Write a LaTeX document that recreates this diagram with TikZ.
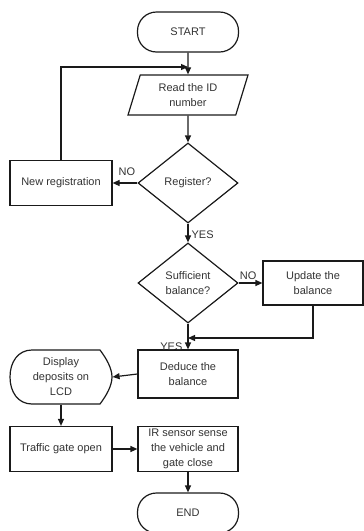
\documentclass[tikz,border=0pt]{standalone}
\usepackage{fontspec}
\setmainfont{Liberation Sans}
\usetikzlibrary{positioning,arrows.meta,shapes.geometric}
\definecolor{cLine}{HTML}{1A1A1A}
\definecolor{cText}{HTML}{333333}
\tikzset{
  blk/.style={draw=cLine, line width=1.2pt, align=center, inner sep=1pt,
              text=cText, font=\fontsize{11}{15}\selectfont},
  proc/.style={blk, rectangle, minimum width=100pt, minimum height=45pt},
  term/.style={blk, rectangle, rounded corners=19pt, minimum width=101pt, minimum height=40pt},
  io/.style={blk, trapezium, trapezium left angle=64, trapezium right angle=116,
             trapezium stretches body, minimum width=120pt, minimum height=40pt},
  dec/.style={blk, diamond, aspect=1.25, minimum width=100pt, minimum height=80pt},
  dispb/.style={blk, draw=none, minimum width=102pt, minimum height=54pt},
  outl/.style={draw=cLine, line width=1.2pt},
  ar/.style={-{Triangle[length=7pt,width=6pt]}, line width=1.2pt, cLine},
  lbl/.style={font=\fontsize{11}{13}\selectfont, text=cText, inner sep=1pt},
}

\begin{document}
\begin{tikzpicture}[x=1pt, y=-1pt]
    \useasboundingbox (0,0) rectangle (364,531);

    % main column
    \node[term] (start) at (188,32)  {START};
    \node[io]   (read)  at (188,95)  {Read the ID\\number};
    \node[dec]  (reg)   at (188,183) {Register?};
    \node[dec]  (suff)  at (188,283) {Sufficient\\balance?};
    \node[proc, minimum height=48pt] (deduce) at (188,374) {Deduce the\\balance};
    \node[proc] (sensor) at (188,449) {IR sensor sense\\the vehicle and\\gate close};
    \node[term] (stop)  at (188,513) {END};

    % side boxes
    \node[proc, minimum width=102pt] (newreg) at (61,183) {New registration};
    \node[proc, minimum height=44pt] (update) at (313,283) {Update the\\balance};
    \node[dispb] (disp) at (61,377) {Display\\deposits on\\LCD};
    \draw[outl] (32,350) -- (100,350) .. controls (106,358) and (112,368) .. (112,377)
      .. controls (112,386) and (106,396) .. (100,404) -- (32,404)
      .. controls (18,404) and (10,392) .. (10,377)
      .. controls (10,362) and (18,350) .. (32,350) -- cycle;
    \node[proc, minimum width=102pt] (gate) at (61,449) {Traffic gate open};

    % connectors
    \coordinate (join)  at (188,67);
    \coordinate (merge) at (188,338);
    \draw[ar] (start.south) -- (read.north);
    \draw[ar] (newreg.north) |- (join);
    \draw[ar] (read.south) -- (reg.north);
    \draw[ar] (reg.west) -- (newreg.east) node[lbl, pos=0.42, above=6pt] {NO};
    \draw[ar] (reg.south) -- (suff.north) node[lbl, pos=0.6, right=2pt] {YES};
    \draw[ar] (suff.east) -- (update.west) node[lbl, pos=0.4, above=2pt] {NO};
    \draw[ar] (update.south) |- (merge);
    \draw[ar] (suff.south) -- (deduce.north) node[lbl, pos=0.88, left=4pt] {YES};
    \draw[ar] (deduce.west) -- (disp.east);
    \draw[ar] (disp.south) -- (gate.north);
    \draw[ar] (gate.east) -- (sensor.west);
    \draw[ar] (sensor.south) -- (stop.north);
\end{tikzpicture}
\end{document}
